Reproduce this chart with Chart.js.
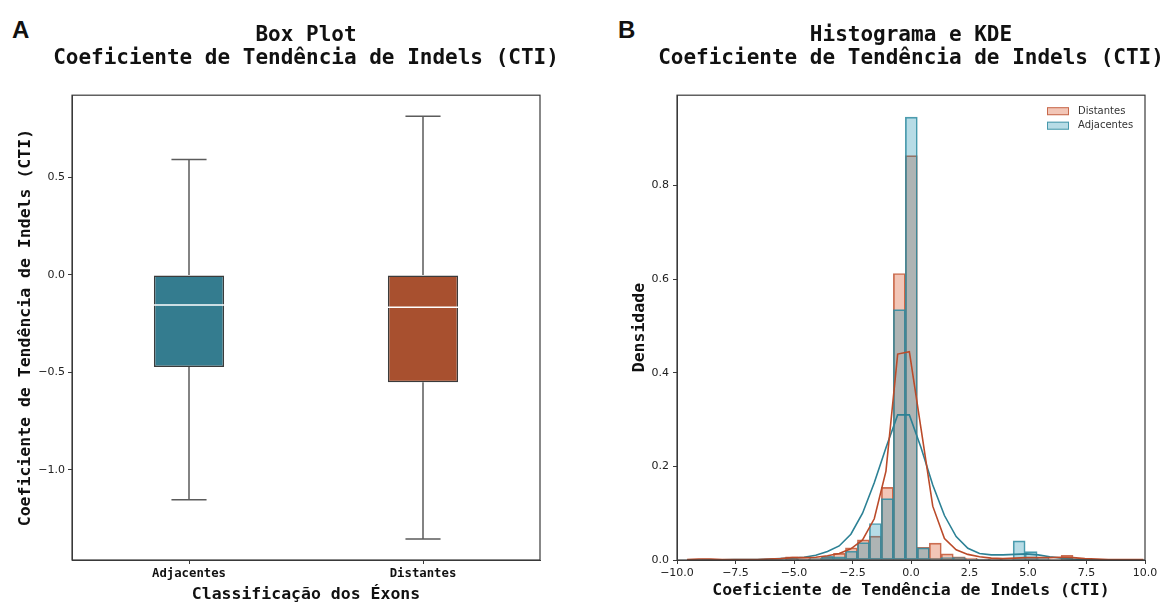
<!DOCTYPE html>
<html lang="pt">
<head>
<meta charset="utf-8">
<title>Coeficiente de Tendência de Indels (CTI)</title>
<script src="https://cdn.jsdelivr.net/npm/chart.js@4.4.1/dist/chart.umd.min.js"></script>
<style>
  html, body { margin: 0; padding: 0; background: #fff; }
  body { width: 1163px; height: 602px; position: relative; overflow: hidden; }
  .tag { position: absolute; top: 18px; font: bold 24px/1 "Liberation Sans", Arial, sans-serif; color: #111; }
  canvas { position: absolute; top: 0; }
</style>
</head>
<body>
<div class="tag" style="left:12px">A</div>
<div class="tag" style="left:618px">B</div>
<canvas id="boxChart" width="612" height="602" style="left:0"></canvas>
<canvas id="histChart" width="662" height="602" style="left:580px"></canvas>
<script>
// --- box plot values (CTI per exon class) ---
const boxCategories = ["Adjacentes", "Distantes"];
const boxQ1 = [-0.473, -0.551];
const boxQ3 = [0.0, 0.0];
const boxMedian = [-0.154, -0.166];
const whiskerLow = [-1.154, -1.355];
const whiskerHigh = [0.592, 0.814];
const boxYTicks = [-1.0, -0.5, 0.0, 0.5];
const boxYRange = [-1.463, 0.922];

// --- histogram (density) with common bins ---
const binCenters = [
  -8.69, -8.178, -7.666, -7.154, -6.642, -6.13, -5.618, -5.106, -4.594, -4.082,
  -3.57, -3.058, -2.546, -2.034, -1.522, -1.01, -0.498, 0.014, 0.526, 1.038,
  1.55, 2.062, 2.574, 3.086, 3.598, 4.11, 4.622, 5.134, 5.646, 6.158, 6.67, 7.182,
];
const histDistantes = [
  0.002, 0, 0, 0, 0, 0, 0, 0.007, 0.003, 0.004,
  0.006, 0.014, 0.026, 0.043, 0.051, 0.155, 0.612, 0.864, 0.027, 0.036,
  0.013, 0.007, 0.004, 0.002, 0.002, 0.001, 0.001, 0.002, 0.001, 0.001, 0.01, 0.002,
];
const histAdjacentes = [
  0, 0, 0, 0, 0, 0, 0, 0.002, 0.002, 0.003,
  0.008, 0.007, 0.019, 0.037, 0.078, 0.131, 0.535, 0.946, 0.026, 0.003,
  0.005, 0.005, 0.002, 0.002, 0.001, 0.001, 0.041, 0.018, 0.004, 0, 0.002, 0,
];

// --- KDE curves ---
const kdeX = [
  -9.57, -9.07, -8.57, -8.07, -7.57, -7.07, -6.57, -6.07, -5.57, -5.07,
  -4.57, -4.07, -3.57, -3.07, -2.57, -2.07, -1.57, -1.07, -0.57, -0.07,
  0.43, 0.93, 1.43, 1.93, 2.43, 2.93, 3.43, 3.93, 4.43, 4.93,
  5.43, 5.93, 6.43, 6.93, 7.43, 7.93, 8.43, 8.93, 9.43, 9.93,
];
const kdeDistantes = [
  0.001, 0.002, 0.002, 0.001, 0.001, 0.001, 0.001, 0.002, 0.003, 0.005,
  0.005, 0.006, 0.009, 0.014, 0.024, 0.043, 0.088, 0.19, 0.44, 0.445,
  0.28, 0.115, 0.046, 0.022, 0.012, 0.007, 0.004, 0.003, 0.004, 0.005,
  0.005, 0.005, 0.006, 0.005, 0.003, 0.002, 0.001, 0.001, 0.001, 0.001,
];
const kdeAdjacentes = [
  0, 0, 0.0005, 0.0005, 0.001, 0.001, 0.001, 0.002, 0.003, 0.004,
  0.006, 0.01, 0.018, 0.03, 0.055, 0.1, 0.165, 0.24, 0.31, 0.31,
  0.24, 0.16, 0.095, 0.05, 0.025, 0.014, 0.011, 0.011, 0.012, 0.013,
  0.011, 0.007, 0.004, 0.002, 0.001, 0.0005, 0, 0, 0, 0,
];
const histXTicks = [-10, -7.5, -5, -2.5, 0, 2.5, 5, 7.5, 10];
const histYTicks = [0, 0.2, 0.4, 0.6, 0.8];
const histYMax = 0.993;

const MONO = '"DejaVu Sans Mono", monospace';
const SANS = '"DejaVu Sans", sans-serif';
const INK = "#111";
const AXIS = "#3a3a3a";

const fmt = (v) => Number(v).toFixed(1).replace("-", "\u2212");

// matplotlib-like spines on all four sides
const frame = {
  id: "frame",
  afterDraw(chart) {
    const { ctx, chartArea: a } = chart;
    ctx.save();
    ctx.strokeStyle = AXIS;
    ctx.lineWidth = 1.2;
    ctx.strokeRect(a.left, a.top, a.right - a.left, a.bottom - a.top);
    ctx.restore();
  },
};

// whiskers, caps and median on top of the floating bars
const boxWhiskers = {
  id: "boxWhiskers",
  afterDatasetsDraw(chart) {
    const { ctx, scales: { x, y } } = chart;
    const bars = chart.getDatasetMeta(0).data;
    ctx.save();
    bars.forEach((bar, i) => {
      const cx = x.getPixelForValue(i);
      const half = bar.width / 2;
      const cap = bar.width / 4;
      ctx.strokeStyle = "#5b5b5b";
      ctx.lineWidth = 1.5;
      ctx.beginPath();
      ctx.moveTo(cx, y.getPixelForValue(boxQ3[i]));
      ctx.lineTo(cx, y.getPixelForValue(whiskerHigh[i]));
      ctx.moveTo(cx, y.getPixelForValue(boxQ1[i]));
      ctx.lineTo(cx, y.getPixelForValue(whiskerLow[i]));
      ctx.moveTo(cx - cap, y.getPixelForValue(whiskerHigh[i]));
      ctx.lineTo(cx + cap, y.getPixelForValue(whiskerHigh[i]));
      ctx.moveTo(cx - cap, y.getPixelForValue(whiskerLow[i]));
      ctx.lineTo(cx + cap, y.getPixelForValue(whiskerLow[i]));
      ctx.stroke();
      ctx.strokeStyle = "#fff";
      ctx.beginPath();
      ctx.moveTo(cx - half, y.getPixelForValue(boxMedian[i]));
      ctx.lineTo(cx + half, y.getPixelForValue(boxMedian[i]));
      ctx.stroke();
    });
    ctx.restore();
  },
};

// small legend in the upper right corner of the plot area (bar datasets only)
const cornerLegend = {
  id: "cornerLegend",
  afterDraw(chart) {
    const { ctx, chartArea: a } = chart;
    const items = chart.data.datasets.filter((ds) => ds.type !== "line");
    ctx.save();
    ctx.font = `10px ${SANS}`;
    ctx.textBaseline = "middle";
    items.forEach((ds, i) => {
      const cy = a.top + 16 + i * 14.5;
      const x0 = a.right - 98;
      ctx.fillStyle = "#fff";
      ctx.fillRect(x0, cy - 4, 22, 8);
      ctx.fillStyle = ds.backgroundColor;
      ctx.fillRect(x0, cy - 4, 22, 8);
      ctx.strokeStyle = ds.borderColor;
      ctx.lineWidth = 1;
      ctx.strokeRect(x0 + 0.5, cy - 3.5, 21, 7);
      ctx.fillStyle = "#333";
      ctx.fillText(ds.label, x0 + 31, cy);
    });
    ctx.restore();
  },
};

function titleOpts(lines) {
  return {
    display: true,
    text: lines,
    color: INK,
    font: { family: MONO, size: 21, weight: "bold", lineHeight: 1.1 },
    padding: { top: 23.5, bottom: 25.5 },
  };
}

function axisTitle(text, padding) {
  return {
    display: true,
    text,
    color: INK,
    font: { family: MONO, size: 16.5, weight: "bold", lineHeight: 1 },
    padding,
  };
}

// an empty right-hand axis as wide as the left one, so that the
// two-line title (centred on the canvas) sits over the plot area
function spacerAxis(width) {
  return {
    type: "linear",
    position: "right",
    display: true,
    grid: { display: false },
    border: { display: false },
    ticks: { display: false },
    afterFit: (scale) => { scale.width = width; },
  };
}

const tickGrid = { display: true, drawOnChartArea: false, drawTicks: true, tickLength: 4, tickColor: AXIS, offset: false };

new Chart(document.getElementById("boxChart"), {
  type: "bar",
  data: {
    labels: boxCategories,
    datasets: [
      {
        label: "CTI",
        data: boxQ1.map((q1, i) => [q1, boxQ3[i]]),
        backgroundColor: ["#347c8f", "#a8502f"],
        borderColor: "#3b3b3b",
        borderWidth: 1.5,
        borderSkipped: false,
        barPercentage: 0.3,
        categoryPercentage: 1,
      },
    ],
  },
  options: {
    responsive: false,
    animation: false,
    layout: { padding: 0 },
    plugins: {
      legend: { display: false },
      tooltip: { enabled: false },
      title: titleOpts(["Box Plot", "Coeficiente de Tendência de Indels (CTI)"]),
    },
    scales: {
      x: {
        offset: true,
        grid: tickGrid,
        border: { display: true, color: AXIS },
        ticks: { color: INK, padding: 2, font: { family: MONO, size: 12.3, weight: "bold" } },
        title: axisTitle("Classificação dos Éxons", { top: 0, bottom: -1 }),
        afterFit: (scale) => { scale.height = 42; },
      },
      y: {
        min: boxYRange[0],
        max: boxYRange[1],
        grid: tickGrid,
        border: { display: true, color: AXIS },
        afterBuildTicks: (scale) => { scale.ticks = boxYTicks.map((value) => ({ value })); },
        ticks: { color: "#222", padding: 3, font: { family: SANS, size: 11 }, callback: fmt },
        title: axisTitle("Coeficiente de Tendência de Indels (CTI)", { top: 17.75, bottom: 0 }),
        afterFit: (scale) => { scale.width = 72; },
      },
      spacer: spacerAxis(72),
    },
  },
  plugins: [boxWhiskers, frame],
});

const histBar = {
  borderWidth: 1,
  borderSkipped: false,
  barPercentage: 1,
  categoryPercentage: 1,
  grouped: false,
};

new Chart(document.getElementById("histChart"), {
  type: "bar",
  data: {
    datasets: [
      {
        ...histBar,
        label: "Distantes",
        data: binCenters.map((x, i) => ({ x, y: histDistantes[i] })),
        backgroundColor: "rgba(212, 65, 18, 0.3)",
        borderColor: "rgba(192, 88, 58, 0.85)",
        order: 2,
      },
      {
        ...histBar,
        label: "Adjacentes",
        data: binCenters.map((x, i) => ({ x, y: histAdjacentes[i] })),
        backgroundColor: "rgba(18, 138, 172, 0.3)",
        borderColor: "rgba(52, 140, 160, 0.85)",
        order: 1,
      },
      {
        type: "line",
        label: "KDE Distantes",
        data: kdeX.map((x, i) => ({ x, y: kdeDistantes[i] })),
        borderColor: "#bb4b2a",
        borderWidth: 1.6,
        pointRadius: 0,
        tension: 0,
        order: 0,
      },
      {
        type: "line",
        label: "KDE Adjacentes",
        data: kdeX.map((x, i) => ({ x, y: kdeAdjacentes[i] })),
        borderColor: "#2c8195",
        borderWidth: 1.6,
        pointRadius: 0,
        tension: 0,
        order: 0,
      },
    ],
  },
  options: {
    responsive: false,
    animation: false,
    layout: { padding: 0 },
    plugins: {
      legend: { display: false },
      tooltip: { enabled: false },
      title: titleOpts(["Histograma e KDE", "Coeficiente de Tendência de Indels (CTI)"]),
    },
    scales: {
      x: {
        type: "linear",
        min: -10,
        max: 10,
        offset: false,
        grid: tickGrid,
        border: { display: true, color: AXIS },
        afterBuildTicks: (scale) => { scale.ticks = histXTicks.map((value) => ({ value })); },
        ticks: { color: "#222", padding: 3, maxRotation: 0, font: { family: SANS, size: 11 }, callback: fmt },
        title: axisTitle("Coeficiente de Tendência de Indels (CTI)", { top: 0, bottom: 2.75 }),
        afterFit: (scale) => { scale.height = 42; },
      },
      y: {
        min: 0,
        max: histYMax,
        grid: tickGrid,
        border: { display: true, color: AXIS },
        afterBuildTicks: (scale) => { scale.ticks = histYTicks.map((value) => ({ value })); },
        ticks: { color: "#222", padding: 4, font: { family: SANS, size: 11 }, callback: fmt },
        title: axisTitle("Densidade", { top: 51.75, bottom: 0 }),
        afterFit: (scale) => { scale.width = 97; },
      },
      spacer: spacerAxis(97),
    },
  },
  plugins: [frame, cornerLegend],
});
</script>
</body>
</html>
